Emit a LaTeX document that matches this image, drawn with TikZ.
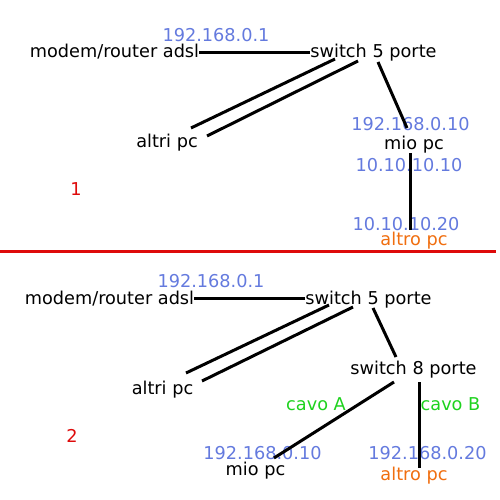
\documentclass[tikz,border=0pt]{standalone}
\usepackage{fontspec}
\setmainfont{DejaVu Sans}
\definecolor{ipblue}{RGB}{100,122,222}
\definecolor{altroorange}{RGB}{240,110,15}
\definecolor{cavogreen}{RGB}{30,210,30}
\definecolor{sepred}{RGB}{222,10,10}
\begin{document}
\begin{tikzpicture}[x=1pt, y=-1pt,
    every node/.style={inner sep=0pt, anchor=base, font=\fontsize{17.7}{21}\selectfont},
    ip/.style={text=ipblue},
    altro/.style={text=altroorange},
    cavo/.style={text=cavogreen},
    num/.style={text=sepred},
    cable/.style={line width=3pt}]
    \useasboundingbox (0,0) rectangle (500,500);
          \node (ipr1) at (216,42) [ip] {192.168.0.1};
          \node (modem1) at (114.5,58) {modem/router adsl};
          \node (sw1) at (373.5,58) {switch 5 porte};
          \node (altri1) at (167,147) {altri pc};
          \node (ipmio1) at (410.5,131) [ip] {192.168.0.10};
          \node (mio1) at (414,149) {mio pc};
          \node (ipten1) at (409,171) [ip] {10.10.10.10};
          \node (ipten2) at (406,230) [ip] {10.10.10.20};
          \node (altro1) at (414,245) [altro] {altro pc};
          \node (uno) at (76,195) [num] {1};
          \draw[cable] ([shift={(0,-2.5)}]modem1.mid east) -- ([shift={(0,-2.5)}]sw1.mid west);
          \draw[cable] ([shift={(-38.5,1)}]sw1.base) -- ([shift={(24,-19)}]altri1.base);
          \draw[cable] ([shift={(-15.5,3)}]sw1.base) -- ([shift={(40,-11)}]altri1.base);
          \draw[cable] ([shift={(4.5,4)}]sw1.base) -- ([shift={(-3.5,-3)}]ipmio1.base);
          \draw[cable] ([shift={(-4,4)}]mio1.base) -- ([shift={(-4,-15)}]altro1.base);

          \draw[sepred, line width=3pt] (0,251.5) -- (496,251.5);

          \node (ipr2) at (211,287) [ip] {192.168.0.1};
          \node (modem2) at (109.5,304) {modem/router adsl};
          \node (sw2) at (368.5,304) {switch 5 porte};
          \node (altri2) at (162.5,394) {altri pc};
          \node (sw8) at (413.5,374) {switch 8 porte};
          \node (cavoA) at (316,410) [cavo] {cavo A};
          \node (cavoB) at (450.5,410) [cavo] {cavo B};
          \node (ipmio2) at (262.5,459) [ip] {192.168.0.10};
          \node (mio2) at (255.5,475) {mio pc};
          \node (ipaltro2) at (427.5,459) [ip] {192.168.0.20};
          \node (altro2) at (414,480) [altro] {altro pc};
          \node (due) at (72,442.5) [num] {2};
          \draw[cable] ([shift={(0,-2.5)}]modem2.mid east) -- ([shift={(0,-2.5)}]sw2.mid west);
          \draw[cable] ([shift={(-39.5,1)}]sw2.base) -- ([shift={(23.5,-21)}]altri2.base);
          \draw[cable] ([shift={(-15.5,3)}]sw2.base) -- ([shift={(39.5,-13)}]altri2.base);
          \draw[cable] ([shift={(4.5,4)}]sw2.base) -- ([shift={(-17.5,-17)}]sw8.base);
          \draw[cable] ([shift={(-19.5,8)}]sw8.base) -- ([shift={(18.5,-17)}]mio2.base);
          \draw[cable] ([shift={(5.5,8)}]sw8.base) -- ([shift={(5,-12)}]altro2.base);
\end{tikzpicture}
\end{document}
